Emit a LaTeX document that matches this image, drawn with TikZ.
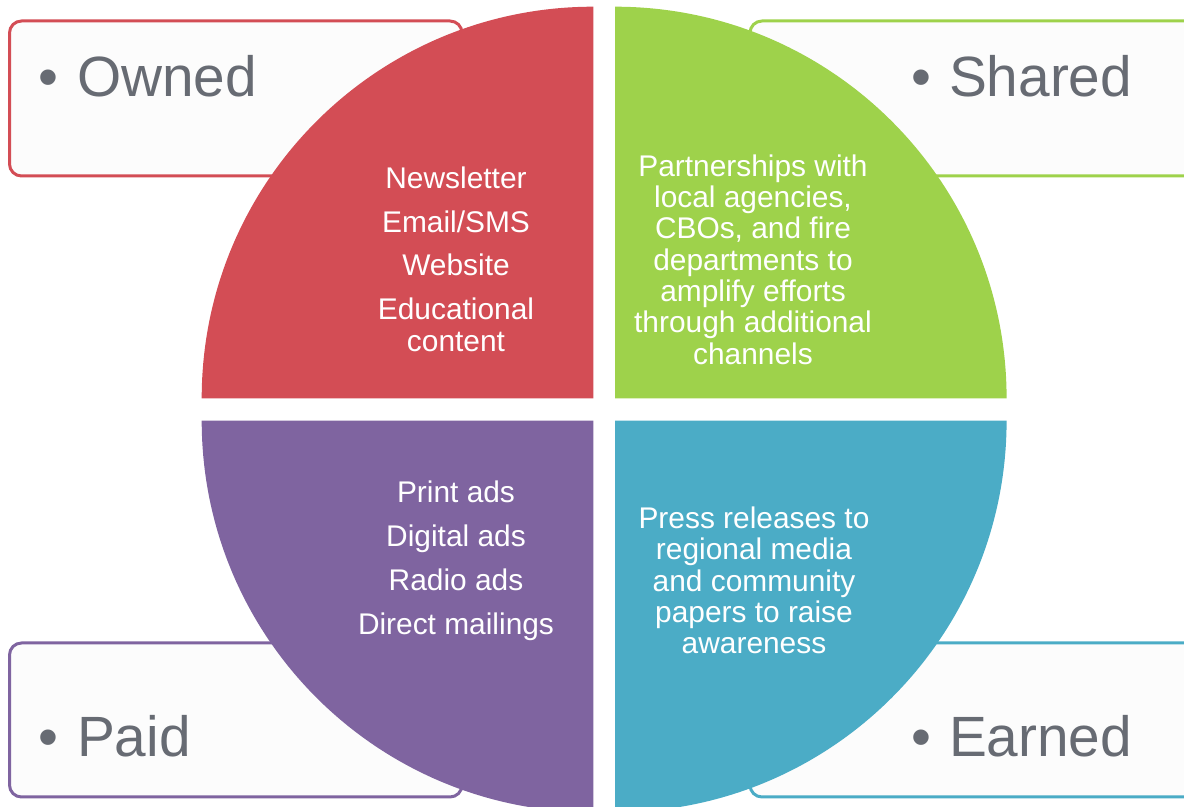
\documentclass[tikz,border=0pt]{standalone}
\usepackage{fontspec}
\setmainfont{Liberation Sans}

\definecolor{ownedred}{HTML}{D34D55}
\definecolor{sharedgreen}{HTML}{9ED24B}
\definecolor{paidpurple}{HTML}{7F64A0}
\definecolor{earnedblue}{HTML}{4BACC6}
\definecolor{labelgray}{HTML}{676B73}
\definecolor{tabfill}{HTML}{FCFCFC}

\begin{document}
\begin{tikzpicture}[x=1bp, y=1bp,
    tab/.style={draw=#1, line width=3bp, fill=tabfill, rounded corners=12bp},
    tablabel/.style={anchor=base west, inner sep=0pt, text=labelgray,
        font=\fontsize{57}{60}\selectfont},
    quadtext/.style={align=center, inner sep=0pt, text=white,
        font=\fontsize{30}{31.5}\selectfont}]
		\useasboundingbox (0,0) rectangle (1184,807);
		
		% tabs behind the circle
		\draw[tab=ownedred] (9.5,631) rectangle (462,786);
		\draw[tab=sharedgreen] (750,631) rectangle (1210,786);
		\draw[tab=paidpurple] (9.5,10) rectangle (462,164);
		\draw[tab=earnedblue] (750,10) rectangle (1210,164);
		
		% tab labels
		\node[tablabel] (ownedlbl) at (38,710) {\textbullet\hspace{19bp}Owned};
		\node[tablabel] (sharedlbl) at (911,710) {\textbullet\hspace{18bp}Shared};
		\node[tablabel] (paidlbl) at (38,50) {\textbullet\hspace{19bp}Paid};
		\node[tablabel] (earnedlbl) at (911,50) {\textbullet\hspace{18bp}Earned};
		
		% quadrants
		\fill[ownedred] (593.3,408.7) -- ++(-391.6,0) arc[start angle=180, end angle=90, radius=391.6] -- cycle;
		\fill[sharedgreen] (615,408.7) -- ++(391.6,0) arc[start angle=0, end angle=90, radius=391.6] -- cycle;
		\fill[paidpurple] (593.3,386.3) -- ++(-391.6,0) arc[start angle=180, end angle=270, radius=391.6] -- cycle;
		\fill[earnedblue] (615,386.3) -- ++(391.6,0) arc[start angle=0, end angle=-90, radius=391.6] -- cycle;
		
		% quadrant texts
		\node[quadtext] (ownedtxt) at (456,548) {Newsletter\\[12.5bp]Email/SMS\\[12.5bp]Website\\[12.5bp]Educational\\content};
		\node[quadtext] (sharedtxt) at (753,547.5) {Partnerships with\\local agencies,\\CBOs, and fire\\departments to\\amplify efforts\\through additional\\channels};
		\node[quadtext] (paidtxt) at (456,246) {Print ads\\[12.5bp]Digital ads\\[12.5bp]Radio ads\\[12.5bp]Direct mailings};
		\node[quadtext] (earnedtxt) at (754,226.5) {Press releases to\\regional media\\and community\\papers to raise\\awareness};
	\end{tikzpicture}
\end{document}
